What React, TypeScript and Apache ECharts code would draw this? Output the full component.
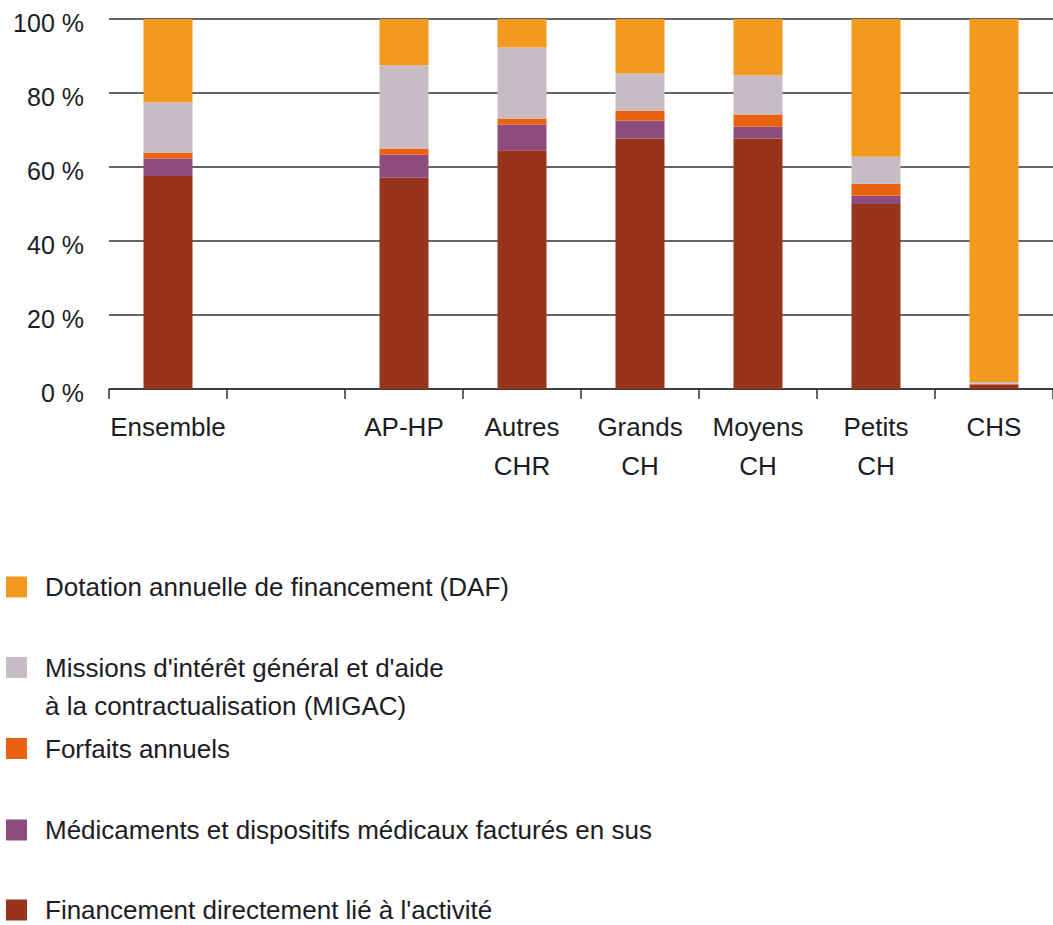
import React, { useEffect, useRef } from "react";
import * as echarts from "echarts";

const categories = ["Ensemble", "", "AP-HP", "Autres\nCHR", "Grands\nCH", "Moyens\nCH", "Petits\nCH", "CHS"];
const activite = [57.6, null, 57.1, 64.5, 67.7, 67.7, 50.0, 1.2];
const medicaments = [4.7, null, 6.2, 6.9, 4.8, 3.2, 2.2, 0.1];
const forfaits = [1.6, null, 1.7, 1.7, 2.8, 3.3, 3.3, 0.1];
const migac = [13.6, null, 22.5, 19.2, 10.0, 10.6, 7.3, 0.5];
const daf = [22.5, null, 12.5, 7.7, 14.7, 15.2, 37.2, 98.1];

const NAME_DAF = "Dotation annuelle de financement (DAF)";
const NAME_MIGAC = "Missions d'intérêt général et d'aide à la contractualisation (MIGAC)";
const NAME_FORF = "Forfaits annuels";
const NAME_MED = "Médicaments et dispositifs médicaux facturés en sus";
const NAME_ACT = "Financement directement lié à l'activité";

const FONT = "'Liberation Sans', Arial, sans-serif";
const TEXT = "#1c1c24";
const LINE = "#333333";

export default function App() {
  const ref = useRef<HTMLDivElement>(null);
  useEffect(() => {
    if (!ref.current) return;
    const chart = echarts.init(ref.current, undefined, { renderer: "svg" });
    const legendBase = (name: string, top: number, lineHeight: number, fmt?: string) => ({
      data: [name],
      left: 6,
      top,
      padding: 0,
      orient: "vertical",
      icon: "rect",
      itemWidth: 21,
      itemHeight: 21,
      selectedMode: false,
      formatter: fmt ? () => fmt : undefined,
      textStyle: {
        fontFamily: FONT,
        fontSize: 26,
        lineHeight,
        color: TEXT,
        padding: [0, 0, 0, 13],
      },
    });
    const bar = (name: string, data: (number | null)[], color: string) => ({
      name,
      type: "bar",
      stack: "total",
      barWidth: 49,
      data,
      itemStyle: { color },
      emphasis: { disabled: true },
    });
    chart.setOption({
      animation: false,
      textStyle: { fontFamily: FONT },
      grid: { left: 109, top: 19, width: 954, height: 370, containLabel: false },
      legend: [
        legendBase(NAME_DAF, 574, 26),
        legendBase(
          NAME_MIGAC,
          610.5,
          38,
          "\nMissions d'intérêt général et d'aide\nà la contractualisation (MIGAC)"
        ),
        legendBase(NAME_FORF, 735.5, 26),
        legendBase(NAME_MED, 817, 26),
        legendBase(NAME_ACT, 897, 22),
      ],
      xAxis: {
        type: "category",
        data: categories,
        axisLine: { lineStyle: { color: LINE, width: 1.5 } },
        axisTick: { show: true, length: 10, lineStyle: { color: LINE, width: 1.5 } },
        axisLabel: {
          interval: 0,
          margin: 18,
          fontFamily: FONT,
          fontSize: 26,
          lineHeight: 39,
          color: TEXT,
        },
      },
      yAxis: {
        type: "value",
        min: 0,
        max: 100,
        interval: 20,
        axisLine: { show: false },
        axisTick: { show: false },
        splitLine: { lineStyle: { color: LINE, width: 1.5 } },
        axisLabel: {
          formatter: "{value} %",
          margin: 25,
          fontFamily: FONT,
          fontSize: 25,
          color: TEXT,
          verticalAlign: "top",
          lineHeight: 8,
        },
      },
      series: [
        bar(NAME_ACT, activite, "#98341b"),
        bar(NAME_MED, medicaments, "#8e4b7e"),
        bar(NAME_FORF, forfaits, "#e8620f"),
        bar(NAME_MIGAC, migac, "#c8bcc4"),
        bar(NAME_DAF, daf, "#f39a1e"),
      ],
    });
    return () => chart.dispose();
  }, []);
  return (
    <div
      ref={ref}
      style={{ position: "absolute", left: 0, top: 0, width: 1053, height: 925, background: "#fff" }}
    />
  );
}
